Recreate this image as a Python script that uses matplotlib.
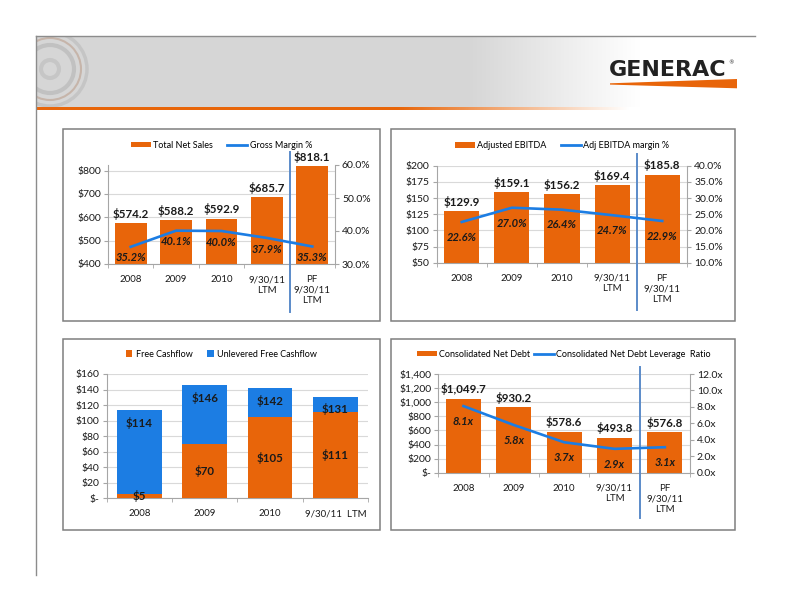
import numpy as np
import matplotlib.pyplot as plt
from matplotlib.patches import Rectangle, Polygon, Circle, Patch
from matplotlib.lines import Line2D
from matplotlib.ticker import FuncFormatter

plt.rcParams['font.family'] = ['Lato', 'DejaVu Sans']

ORANGE = '#E8650A'
BLUE = '#1C7DE3'
PF_BLUE = '#5B8BC9'
GRID = '#D9D9D9'
AXIS = '#A6A6A6'
TXT = '#1A1A1A'

W, H = 792, 612

# data
cats5 = ['2008', '2009', '2010', '9/30/11\nLTM', 'PF\n9/30/11\nLTM']
cats4 = ['2008', '2009', '2010', '9/30/11  LTM']

net_sales = [574.2, 588.2, 592.9, 685.7, 818.1]
gross_margin = [35.2, 40.1, 40.0, 37.9, 35.3]

ebitda = [129.9, 159.1, 156.2, 169.4, 185.8]
ebitda_margin = [22.6, 27.0, 26.4, 24.7, 22.9]

free_cf = [5, 70, 105, 111]
unlev_cf = [114, 146, 142, 131]

net_debt = [1049.7, 930.2, 578.6, 493.8, 576.8]
leverage = [8.1, 5.8, 3.7, 2.9, 3.1]

fig = plt.figure(figsize=(W / 100, H / 100), dpi=100)

# ---- page decoration (header band, logo, frames) ----
bg = fig.add_axes([0, 0, 1, 1])
bg.set_xlim(0, W)
bg.set_ylim(H, 0)
bg.axis('off')

xs = np.linspace(36, 750, 400)
shade = np.clip((xs - 470) / 170, 0, 1)
band = np.ones((1, len(xs), 3))
band[0, :, :] = (0.84 + 0.16 * shade)[:, None]
bg.imshow(band, extent=(36, 750, 107, 36), aspect='auto', zorder=0)

org = np.array([0.91, 0.40, 0.04])
stripe = np.ones((1, len(xs), 4))
stripe[0, :, :3] = org
stripe[0, :, 3] = 1 - np.clip((xs - 400) / 230, 0, 1)
bg.imshow(stripe, extent=(36, 750, 110, 107), aspect='auto', zorder=1)

clip = Rectangle((36, 36), 714, 71, transform=bg.transData, visible=False)
bg.add_patch(clip)
for r, c, lw in [(37, '#9a9a9a', 2.5), (31, '#a0603a', 1.5), (24, '#8c8c8c', 3), (9, '#a0a0a0', 3)]:
    ring = Circle((50, 69), r, fill=False, edgecolor=c, lw=lw, alpha=0.28, zorder=2)
    bg.add_patch(ring)
    ring.set_clip_path(clip)

bg.plot([36, 755], [36, 36], color='#8c8c8c', lw=1, zorder=3)
bg.plot([36, 36], [36, 575], color='#8c8c8c', lw=1, zorder=3)

logo = bg.text(609, 70.5, 'GENERAC', fontsize=16, fontweight='heavy', color='#222222',
               family='DejaVu Sans', va='center', ha='left', zorder=4)
bg.annotate('®', xy=(1, 0.9), xycoords=logo, xytext=(1, 0), textcoords='offset points',
            fontsize=4, color='#222222', family='DejaVu Sans', va='center', ha='left', zorder=4)
bg.add_patch(Polygon([(610, 83.3), (737, 79), (737, 88.3), (610, 84.6)],
                     closed=True, facecolor=ORANGE, edgecolor='none', zorder=4))

for (l, t, r, b) in [(62.7, 129.3, 380, 320.7), (390.7, 129.3, 735, 320.7),
                     (62.7, 339.3, 380, 530), (390.7, 339.3, 735, 530)]:
    bg.add_patch(Rectangle((l, t), r - l, b - t, fill=False, edgecolor='#7f7f7f', lw=1.1, zorder=3))


def px_axes(left, top, right, bottom):
    ax = fig.add_axes([left / W, 1 - bottom / H, (right - left) / W, (bottom - top) / H])
    ax.patch.set_visible(False)
    return ax


def style(ax, cats, ylim, yticks, yfmt):
    n = len(cats)
    ax.set_xlim(-0.5, n - 0.5)
    ax.set_ylim(*ylim)
    ax.set_yticks(yticks)
    ax.yaxis.set_major_formatter(FuncFormatter(yfmt))
    for s in ['top', 'right']:
        ax.spines[s].set_visible(False)
    ax.spines['left'].set_color(AXIS)
    ax.spines['bottom'].set_color(AXIS)
    ax.grid(axis='y', color=GRID, lw=0.8)
    ax.set_axisbelow(True)
    ax.set_xticks(range(n))
    ax.set_xticklabels(cats)
    ax.set_xticks(np.arange(-0.5, n), minor=True)
    ax.tick_params(axis='x', which='major', length=0, pad=8, labelsize=7, labelcolor=TXT)
    ax.tick_params(axis='x', which='minor', length=3, color=AXIS)
    ax.tick_params(axis='y', length=3, color=AXIS, labelsize=7.5, pad=2, labelcolor=TXT)


def right_axis(ax, ylim, yticks, yfmt):
    ax2 = ax.twinx()
    ax2.set_ylim(*ylim)
    ax2.set_yticks(yticks)
    ax2.yaxis.set_major_formatter(FuncFormatter(yfmt))
    for s in ['top', 'left', 'bottom']:
        ax2.spines[s].set_visible(False)
    ax2.spines['right'].set_color(AXIS)
    ax2.tick_params(axis='y', length=3, color=AXIS, labelsize=7.5, pad=2, labelcolor=TXT)
    return ax2


def pf_line(ax, y0, y1):
    ax.plot([3.5, 3.5], [y0, y1], color=PF_BLUE, lw=1.4,
            transform=ax.get_xaxis_transform(), clip_on=False, zorder=5)


def dollar0(v, _):
    return '$-' if v == 0 else f'${v:,.0f}'


def combo(ax, bars, line, bar_name, line_name, rlim, rticks, rfmt, bar_fmt, line_fmt,
          line_off, leg_y, colsp=1.6):
    x = np.arange(len(bars))
    ax.bar(x, bars, width=0.7, color=ORANGE, zorder=2)
    ax2 = right_axis(ax, rlim, rticks, rfmt)
    ax2.plot(x, line, color=BLUE, lw=1.9, zorder=3)
    for xi, b in zip(x, bars):
        ax.annotate(bar_fmt(b), (xi, b), xytext=(0, 2.5), textcoords='offset points',
                    ha='center', va='bottom', fontsize=8.3, fontweight='bold', color=TXT)
    for xi, v in zip(x, line):
        ax2.annotate(line_fmt(v), (xi, v), xytext=(0, line_off), textcoords='offset points',
                     ha='center', va='center', fontsize=8, fontweight='bold', style='italic', color=TXT)
    handles = [Patch(facecolor=ORANGE, label=bar_name),
               Line2D([], [], color=BLUE, lw=2, label=line_name)]
    ax.legend(handles=handles, loc='center', bbox_to_anchor=(0.5, leg_y), ncol=2, frameon=False,
              fontsize=6.5, handlelength=2.2, handleheight=0.6, columnspacing=colsp, handletextpad=0.25)
    return ax2


# ---- Total net sales ----
ax1 = px_axes(108, 165, 335, 264)
style(ax1, cats5, (400, 824), [400, 500, 600, 700, 800], dollar0)
combo(ax1, net_sales, gross_margin, 'Total Net Sales', 'Gross Margin %',
      (30, 60), [30, 40, 50, 60], lambda v, _: f'{v:.1f}%',
      lambda b: f'${b:.1f}', lambda v: f'{v:.1f}%', -8, 1.2)
pf_line(ax1, 1.134, -0.48)

# ---- Adjusted EBITDA ----
ax3 = px_axes(436.7, 165.7, 687.3, 262.7)
style(ax3, cats5, (50, 200), [50, 75, 100, 125, 150, 175, 200], dollar0)
combo(ax3, ebitda, ebitda_margin, 'Adjusted EBITDA', 'Adj EBITDA margin %',
      (10, 40), [10, 15, 20, 25, 30, 35, 40], lambda v, _: f'{v:.1f}%',
      lambda b: f'${b:.1f}', lambda v: f'{v:.1f}%', -11, 1.21)
pf_line(ax3, 1.12, -0.49)

# ---- Free cashflow ----
ax5 = px_axes(106.7, 374, 368, 498.3)
style(ax5, cats4, (0, 160), list(range(0, 161, 20)), dollar0)
x4 = np.arange(len(free_cf))
ax5.bar(x4, unlev_cf, width=0.68, color=BLUE, zorder=2)
ax5.bar(x4, free_cf, width=0.68, color=ORANGE, zorder=3)
for xi, u, f in zip(x4, unlev_cf, free_cf):
    ax5.annotate(f'${u}', (xi, u), xytext=(0, -5), textcoords='offset points',
                 ha='center', va='top', fontsize=8.3, fontweight='bold', color=TXT, zorder=4)
    ax5.text(xi, f / 2, f'${f}', ha='center', va='center', fontsize=8.3,
             fontweight='bold', color=TXT, zorder=4)
ax5.legend(handles=[Patch(facecolor=ORANGE, label='Free Cashflow'),
                    Patch(facecolor=BLUE, label='Unlevered Free Cashflow')],
           loc='center', bbox_to_anchor=(0.44, 1.16), ncol=2, frameon=False, fontsize=6.5,
           handlelength=0.7, handleheight=0.7, columnspacing=1.6, handletextpad=0.4)

# ---- Net debt ----
ax7 = px_axes(438.3, 374, 690, 472.7)
style(ax7, cats5, (0, 1400), list(range(0, 1401, 200)), dollar0)
combo(ax7, net_debt, leverage, 'Consolidated Net Debt', 'Consolidated Net Debt Leverage  Ratio',
      (0, 12), [0, 2, 4, 6, 8, 10, 12], lambda v, _: f'{v:.1f}x',
      lambda b: f'${b:,.1f}', lambda v: f'{v:.1f}x', -11, 1.2, colsp=0.4)
pf_line(ax7, 1.074, -0.456)

fig.savefig('out.png', dpi=100)
